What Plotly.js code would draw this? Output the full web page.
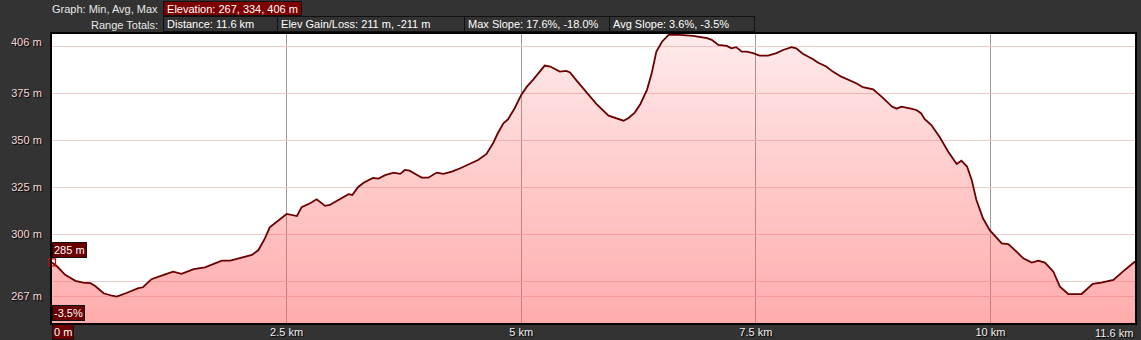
<!DOCTYPE html>
<html>
<head>
<meta charset="utf-8">
<script src="https://cdn.plot.ly/plotly-3.0.1.min.js"></script>
<style>
  html, body { margin: 0; padding: 0; background: #333333; }
  #chart { width: 1141px; height: 340px; }
</style>
</head>
<body>
<div id="chart"></div>
<script>
// ---- data ----
const distanceKm = [0, 0.05, 0.14, 0.25, 0.33, 0.41, 0.46, 0.55, 0.64, 0.69, 0.80, 0.92, 0.97, 1.06, 1.19, 1.29, 1.38, 1.51, 1.63, 1.72, 1.81, 1.90, 2.00, 2.13, 2.20, 2.27, 2.32, 2.43, 2.50, 2.61, 2.66, 2.75, 2.82, 2.91, 2.96, 3.00, 3.07, 3.16, 3.20, 3.26, 3.32, 3.42, 3.48, 3.55, 3.64, 3.71, 3.76, 3.81, 3.89, 3.94, 4.01, 4.10, 4.17, 4.26, 4.35, 4.45, 4.54, 4.63, 4.70, 4.75, 4.81, 4.86, 4.93, 5.00, 5.06, 5.13, 5.20, 5.25, 5.31, 5.41, 5.48, 5.52, 5.59, 5.70, 5.80, 5.93, 6.00, 6.09, 6.14, 6.21, 6.27, 6.34, 6.39, 6.44, 6.50, 6.57, 6.69, 6.83, 6.98, 7.03, 7.10, 7.19, 7.24, 7.29, 7.35, 7.40, 7.47, 7.54, 7.63, 7.72, 7.79, 7.88, 7.93, 8.00, 8.11, 8.16, 8.25, 8.32, 8.41, 8.50, 8.57, 8.64, 8.75, 8.86, 8.95, 9.00, 9.05, 9.14, 9.21, 9.26, 9.30, 9.37, 9.46, 9.55, 9.64, 9.69, 9.75, 9.80, 9.85, 9.92, 9.99, 10.12, 10.19, 10.26, 10.35, 10.44, 10.51, 10.58, 10.67, 10.74, 10.83, 10.97, 11.09, 11.18, 11.31, 11.41, 11.52, 11.54];
const elevationM = [285.0, 283.1, 278.4, 275.2, 274.3, 274.0, 272.5, 268.6, 267.3, 266.8, 268.9, 271.3, 271.8, 276.1, 278.4, 280.1, 278.9, 281.5, 282.4, 284.2, 286.0, 286.0, 287.2, 289.0, 291.6, 297.9, 303.7, 308.3, 310.8, 309.7, 314.4, 316.5, 318.6, 315.1, 315.6, 316.8, 318.6, 321.3, 320.9, 325.0, 327.4, 329.9, 329.6, 331.4, 332.8, 332.1, 334.2, 333.8, 331.5, 330.1, 330.1, 332.8, 332.1, 333.3, 335.1, 337.4, 339.5, 342.7, 348.4, 353.7, 359.0, 361.2, 367.0, 374.1, 378.5, 382.4, 387.0, 389.7, 389.2, 386.5, 386.9, 386.0, 381.7, 375.3, 369.3, 363.1, 362.0, 360.4, 361.7, 364.7, 369.3, 376.8, 385.6, 397.1, 402.4, 406.0, 406.0, 405.5, 404.3, 403.4, 400.7, 400.2, 398.9, 399.5, 397.1, 397.1, 396.3, 395.0, 395.0, 396.3, 398.0, 399.5, 398.9, 396.0, 393.1, 391.3, 389.2, 386.5, 383.8, 381.7, 380.3, 378.2, 377.1, 372.3, 367.9, 366.8, 367.9, 367.0, 366.1, 364.4, 361.2, 358.1, 351.6, 343.9, 337.4, 339.1, 336.0, 328.9, 318.2, 308.5, 302.3, 295.2, 294.8, 291.6, 287.2, 284.9, 286.0, 284.9, 280.1, 272.1, 268.2, 268.2, 273.6, 274.3, 275.7, 280.1, 284.9, 285.5];

const xTickVals = [2.5, 5, 7.5, 10];
const xTickText = ['2.5 km', '5 km', '7.5 km', '10 km'];
const yGridVals = [267, 275, 300, 325, 350, 375, 400];
const yGridText = ['267 m', '', '300 m', '325 m', '350 m', '375 m', ''];
const yMaxLabel = '406 m';
const xEndLabel = '11.6 km';

const headerGraphLabel = 'Graph: Min, Avg, Max';
const headerElevation = 'Elevation: 267, 334, 406 m';
const headerRangeLabel = 'Range Totals:';
const rangeTotals = ['Distance: 11.6 km', 'Elev Gain/Loss: 211 m, -211 m', 'Max Slope: 17.6%, -18.0%', 'Avg Slope: 3.6%, -3.5%'];
const cursorSlope = '-3.5%';
const cursorDistance = '0 m';

// ---- layout helpers (pixel -> paper) ----
const L = 52, R = 1135, T = 34, B = 323;
const px = v => (v - L) / (R - L);
const py = v => (B - v) / (B - T);
const FONT = 'Liberation Sans, Arial, sans-serif';

const traces = [
  {
    x: distanceKm, y: elevationM, type: 'scatter', mode: 'lines',
    line: { color: '#6a0000', width: 1.8 },
    fill: 'tozeroy',
    fillgradient: {
      type: 'vertical', start: 253, stop: 406,
      colorscale: [[0, 'rgba(255,95,95,0.52)'], [1, 'rgba(255,95,95,0.13)']]
    },
    hoverinfo: 'skip', showlegend: false
  },
  {
    x: [distanceKm[0]], y: [elevationM[0]], type: 'scatter', mode: 'markers',
    marker: { symbol: 'square-open', size: 7, color: '#d00000', line: { width: 1.2 } },
    cliponaxis: false, hoverinfo: 'skip', showlegend: false
  }
];

const boxFont = { family: FONT, size: 11, color: '#ffffff' };
const annotations = [];
annotations.push({
  xref: 'paper', yref: 'paper', x: px(160), y: py(8.5), xanchor: 'right', yanchor: 'middle',
  text: headerGraphLabel, showarrow: false, font: { family: FONT, size: 11, color: '#e8e8e8' }
});
annotations.push({
  xref: 'paper', yref: 'paper', x: px(160), y: py(24.5), xanchor: 'right', yanchor: 'middle',
  text: headerRangeLabel, showarrow: false, font: { family: FONT, size: 11, color: '#e8e8e8' }
});
annotations.push({
  xref: 'paper', yref: 'paper', x: px(163), y: py(1), xanchor: 'left', yanchor: 'top',
  text: '&nbsp;' + headerElevation, showarrow: false, font: boxFont,
  bgcolor: '#7d0000', bordercolor: '#111111', borderwidth: 1, borderpad: 0,
  width: 137, height: 13, align: 'left', valign: 'middle'
});
const boxEdges = [163, 277, 464, 609, 754];
rangeTotals.forEach((t, i) => {
  annotations.push({
    xref: 'paper', yref: 'paper', x: px(boxEdges[i]), y: py(16), xanchor: 'left', yanchor: 'top',
    text: '&nbsp;' + t, showarrow: false, font: boxFont,
    bgcolor: '#333333', bordercolor: '#111111', borderwidth: 1, borderpad: 0,
    width: boxEdges[i + 1] - boxEdges[i] - 1, height: 14, align: 'left', valign: 'middle'
  });
});
// max label on y axis
annotations.push({
  xref: 'paper', yref: 'y', x: 0, y: 406, xanchor: 'right', yanchor: 'middle', xshift: -8, yshift: -7,
  text: yMaxLabel, showarrow: false,
  font: { family: FONT, size: 11, color: '#f6d8d8', shadow: '1px 1px 1px #000' }
});
// end of x axis label
annotations.push({
  xref: 'paper', yref: 'paper', x: 1, y: 0, xanchor: 'right', yanchor: 'top', yshift: -2,
  text: xEndLabel, showarrow: false,
  font: { family: FONT, size: 11, color: '#f0f0f0', shadow: '1px 1px 1px #000' }
});
// cursor boxes
annotations.push({
  xref: 'paper', yref: 'y', x: 0, y: elevationM[0], xanchor: 'left', yanchor: 'bottom', yshift: 4,
  text: Math.round(elevationM[0]) + ' m', showarrow: false, font: boxFont,
  bgcolor: '#6a0000', bordercolor: '#111111', borderwidth: 1, borderpad: 1
});
annotations.push({
  xref: 'paper', yref: 'paper', x: 0, y: 0, xanchor: 'left', yanchor: 'bottom', yshift: 2,
  text: cursorSlope, showarrow: false, font: boxFont,
  bgcolor: '#6a0000', bordercolor: '#111111', borderwidth: 1, borderpad: 1
});
annotations.push({
  xref: 'paper', yref: 'paper', x: 0, y: 0, xanchor: 'left', yanchor: 'top', yshift: -1,
  text: cursorDistance, showarrow: false, font: boxFont,
  bgcolor: '#6a0000', bordercolor: '#111111', borderwidth: 1, borderpad: 1
});

const layout = {
  width: 1141, height: 340,
  margin: { l: L, r: 1141 - R, t: T, b: 340 - B, pad: 0 },
  paper_bgcolor: '#333333', plot_bgcolor: '#ffffff',
  font: { family: FONT, size: 11, color: '#eeeeee' },
  showlegend: false,
  xaxis: {
    range: [0, 11.54], tickvals: xTickVals, ticktext: xTickText,
    showgrid: true, gridcolor: '#9a9a9a', gridwidth: 1, zeroline: false,
    showline: true, mirror: true, linecolor: '#000000', linewidth: 2,
    ticks: '', ticklabelstandoff: -2,
    tickfont: { family: FONT, size: 11, color: '#f0f0f0', shadow: '1px 1px 1px #000' },
    fixedrange: true
  },
  yaxis: {
    range: [252.8, 406.5], tickvals: yGridVals, ticktext: yGridText,
    showgrid: true, gridcolor: '#efcccc', gridwidth: 1, zeroline: false,
    showline: true, mirror: true, linecolor: '#000000', linewidth: 2,
    ticks: '', ticklabelstandoff: 6,
    tickfont: { family: FONT, size: 11, color: '#f6d8d8', shadow: '1px 1px 1px #000' },
    fixedrange: true
  },
  annotations: annotations
};

Plotly.newPlot('chart', traces, layout, { displayModeBar: false, staticPlot: true });
</script>
</body>
</html>
